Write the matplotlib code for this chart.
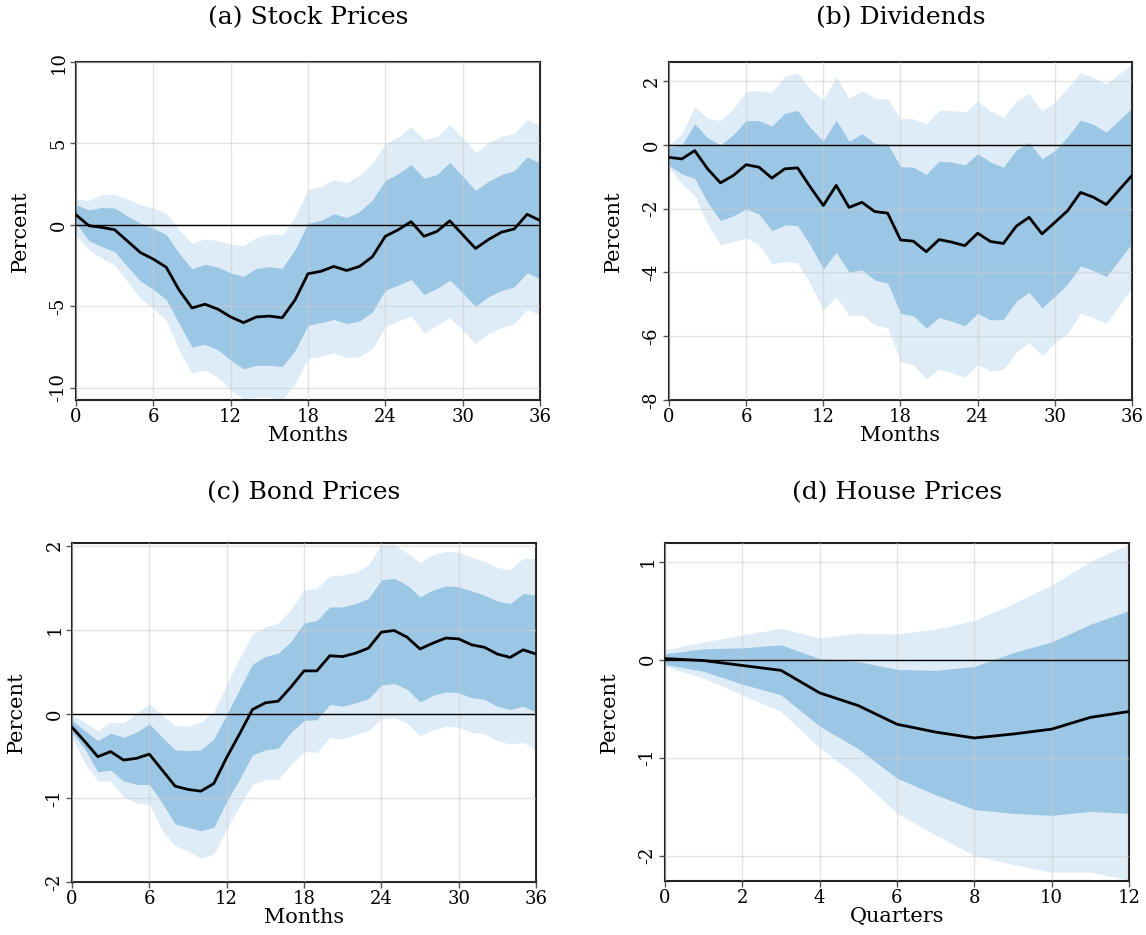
import numpy as np
import matplotlib
matplotlib.use('Agg')
import matplotlib.pyplot as plt

plt.rcParams['font.family'] = ['DejaVu Serif']
plt.rcParams['axes.unicode_minus'] = False

# (a) stock prices, months 0..36
stock_med = [0.62, -0.05, -0.15, -0.3, -1.0, -1.7, -2.1, -2.6, -4.0, -5.1, -4.87, -5.17, -5.65, -6.0, -5.65, -5.6, -5.7, -4.6, -3.0,
             -2.85, -2.55, -2.8, -2.55, -1.95, -0.7, -0.3, 0.2, -0.7, -0.4, 0.25, -0.6, -1.45, -0.9, -0.45, -0.25, 0.65, 0.27]
stock_in_hi = [1.23, 0.92, 1.07, 1.03, 0.55, 0.1, -0.2, -0.6, -1.75, -2.7, -2.42, -2.6, -2.95, -3.15, -2.67, -2.57, -2.67, -1.5, 0.1,
               0.27, 0.68, 0.45, 0.82, 1.54, 2.73, 3.14, 3.7, 2.87, 3.08, 3.84, 2.98, 2.12, 2.67, 3.08, 3.33, 4.17, 3.8]
stock_in_lo = [0.1, -0.97, -1.33, -1.64, -2.57, -3.45, -3.96, -4.58, -6.06, -7.5, -7.33, -7.66, -8.3, -8.83, -8.62, -8.62, -8.69, -7.7, -6.16,
               -6.0, -5.8, -6.06, -5.9, -5.34, -4.0, -3.7, -3.35, -4.27, -3.9, -3.39, -4.17, -5.0, -4.4, -4.05, -3.8, -2.94, -3.3]
stock_out_hi = [1.58, 1.5, 1.85, 1.89, 1.58, 1.23, 1.03, 0.72, -0.3, -1.13, -0.86, -0.97, -1.17, -1.29, -0.76, -0.55, -0.62, 0.51, 2.16,
                2.36, 2.77, 2.6, 3.02, 3.8, 4.97, 5.4, 6.02, 5.24, 5.4, 6.16, 5.34, 4.46, 5.03, 5.44, 5.6, 6.47, 6.1]
stock_out_lo = [-0.62, -1.54, -2.05, -2.46, -3.5, -4.5, -5.13, -5.85, -7.7, -9.1, -8.9, -9.34, -10.12, -10.68, -10.57, -10.57, -10.74, -9.75, -8.21,
                -8.07, -7.86, -8.15, -8.1, -7.6, -6.26, -5.89, -5.6, -6.63, -6.16, -5.7, -6.47, -7.29, -6.67, -6.3, -6.06, -5.2, -5.5]

# (b) dividends, months 0..36
div_med = [-0.39, -0.44, -0.18, -0.75, -1.19, -0.96, -0.62, -0.7, -1.04, -0.75, -0.72, -1.33, -1.9, -1.27, -1.96, -1.8, -2.09, -2.14, -2.98,
           -3.02, -3.35, -2.97, -3.05, -3.16, -2.77, -3.03, -3.09, -2.55, -2.27, -2.79, -2.43, -2.06, -1.49, -1.64, -1.87, -1.41, -0.96]
div_in_hi = [-0.07, 0.0, 0.66, 0.22, 0.0, 0.32, 0.76, 0.76, 0.59, 0.99, 1.08, 0.53, 0.12, 0.78, 0.12, 0.35, 0.05, 0.03, -0.68,
             -0.7, -0.93, -0.51, -0.54, -0.63, -0.28, -0.54, -0.7, -0.16, 0.08, -0.44, -0.18, 0.26, 0.78, 0.64, 0.4, 0.78, 1.16]
div_in_lo = [-0.65, -0.91, -1.05, -1.8, -2.37, -2.22, -2.01, -2.17, -2.69, -2.51, -2.53, -3.16, -3.89, -3.37, -3.99, -3.92, -4.24, -4.33, -5.28,
             -5.36, -5.75, -5.41, -5.53, -5.67, -5.28, -5.49, -5.47, -4.9, -4.62, -5.11, -4.75, -4.36, -3.79, -3.94, -4.13, -3.61, -3.09]
div_out_hi = [0.0, 0.35, 1.2, 0.84, 0.76, 1.13, 1.68, 1.7, 1.65, 2.14, 2.26, 1.74, 1.42, 2.14, 1.46, 1.7, 1.46, 1.44, 0.82,
              0.82, 0.66, 1.08, 1.08, 1.03, 1.37, 1.06, 0.87, 1.37, 1.62, 1.06, 1.34, 1.79, 2.26, 2.12, 1.91, 2.23, 2.54]
div_out_lo = [-0.7, -1.22, -1.59, -2.48, -3.13, -3.03, -2.92, -3.13, -3.73, -3.66, -3.7, -4.36, -5.18, -4.75, -5.36, -5.33, -5.65, -5.74, -6.79,
              -6.89, -7.34, -7.03, -7.15, -7.29, -6.89, -7.1, -7.03, -6.51, -6.19, -6.61, -6.19, -5.91, -5.28, -5.43, -5.6, -5.04, -4.49]

# (c) bond prices, months 0..36
bond_med = [-0.16, -0.33, -0.51, -0.45, -0.55, -0.53, -0.48, -0.67, -0.86, -0.9, -0.92, -0.83, -0.52, -0.24, 0.05, 0.13, 0.15, 0.32, 0.51,
            0.51, 0.69, 0.68, 0.72, 0.78, 0.97, 0.99, 0.91, 0.77, 0.84, 0.9, 0.89, 0.82, 0.79, 0.71, 0.67, 0.76, 0.71]
bond_in_hi = [-0.08, -0.2, -0.32, -0.23, -0.28, -0.22, -0.12, -0.28, -0.43, -0.44, -0.43, -0.3, -0.01, 0.29, 0.59, 0.68, 0.72, 0.86, 1.08,
              1.11, 1.27, 1.27, 1.31, 1.37, 1.59, 1.61, 1.53, 1.39, 1.47, 1.52, 1.51, 1.46, 1.41, 1.34, 1.31, 1.43, 1.41]
bond_in_lo = [-0.22, -0.42, -0.69, -0.67, -0.8, -0.84, -0.84, -1.06, -1.31, -1.35, -1.39, -1.35, -1.04, -0.78, -0.49, -0.43, -0.41, -0.22, -0.08,
              -0.07, 0.11, 0.09, 0.13, 0.18, 0.34, 0.36, 0.29, 0.14, 0.22, 0.26, 0.25, 0.19, 0.17, 0.09, 0.05, 0.09, 0.02]
bond_out_hi = [-0.01, -0.1, -0.2, -0.1, -0.11, 0.0, 0.12, -0.02, -0.14, -0.15, -0.1, 0.02, 0.35, 0.66, 0.95, 1.03, 1.08, 1.24, 1.47,
               1.49, 1.64, 1.65, 1.68, 1.77, 2.01, 2.01, 1.91, 1.8, 1.89, 1.93, 1.92, 1.86, 1.81, 1.74, 1.71, 1.85, 1.84]
bond_out_lo = [-0.28, -0.59, -0.8, -0.8, -0.99, -1.06, -1.08, -1.39, -1.57, -1.63, -1.72, -1.67, -1.37, -1.1, -0.84, -0.78, -0.78, -0.6, -0.45,
               -0.46, -0.28, -0.3, -0.25, -0.2, -0.06, -0.05, -0.11, -0.26, -0.19, -0.15, -0.16, -0.22, -0.24, -0.32, -0.36, -0.34, -0.43]

# (d) house prices, quarters 0..12
house_med = [0.01, -0.01, -0.06, -0.11, -0.34, -0.47, -0.66, -0.74, -0.8, -0.76, -0.71, -0.59, -0.53]
house_in_hi = [0.06, 0.11, 0.12, 0.15, 0.01, -0.02, -0.1, -0.11, -0.07, 0.07, 0.18, 0.36, 0.5]
house_in_lo = [-0.05, -0.12, -0.25, -0.36, -0.68, -0.91, -1.21, -1.38, -1.53, -1.57, -1.59, -1.55, -1.57]
house_out_hi = [0.1, 0.18, 0.25, 0.32, 0.22, 0.27, 0.26, 0.31, 0.4, 0.57, 0.76, 1.0, 1.18]
house_out_lo = [-0.07, -0.19, -0.36, -0.53, -0.9, -1.2, -1.57, -1.79, -2.0, -2.09, -2.17, -2.17, -2.25]

panels = [
    ('(a) Stock Prices', 'Months', stock_med, stock_in_lo, stock_in_hi, stock_out_lo, stock_out_hi,
     [0, 6, 12, 18, 24, 30, 36], [-10, -5, 0, 5, 10], (-10.75, 10)),
    ('(b) Dividends', 'Months', div_med, div_in_lo, div_in_hi, div_out_lo, div_out_hi,
     [0, 6, 12, 18, 24, 30, 36], [-8, -6, -4, -2, 0, 2], (-8, 2.6)),
    ('(c) Bond Prices', 'Months', bond_med, bond_in_lo, bond_in_hi, bond_out_lo, bond_out_hi,
     [0, 6, 12, 18, 24, 30, 36], [-2, -1, 0, 1, 2], (-2, 2.03)),
    ('(d) House Prices', 'Quarters', house_med, house_in_lo, house_in_hi, house_out_lo, house_out_hi,
     [0, 2, 4, 6, 8, 10, 12], [-2, -1, 0, 1], (-2.26, 1.19)),
]

# axes boxes in pixels: left, top, right, bottom
W, H = 1146, 935
boxes = [(76, 62, 540, 400), (669, 62, 1132, 400), (72, 543, 536, 882), (665, 543, 1129, 881)]
title_y = [18, 493]

fig = plt.figure(figsize=(W / 100, H / 100), dpi=100)
fig.patch.set_facecolor('white')

for i, (title, xlab, med, ilo, ihi, olo, ohi, xt, yt, ylim) in enumerate(panels):
    l, t, r, b = boxes[i]
    ax = fig.add_axes([l / W, 1 - b / H, (r - l) / W, (b - t) / H])
    x = np.arange(len(med))
    ax.fill_between(x, olo, ohi, color='#deecf7', lw=0, zorder=1)
    ax.fill_between(x, ilo, ihi, color='#9bc6e4', lw=0, zorder=2)
    for v in xt:
        ax.axvline(v, color='#cccccc', lw=1, alpha=0.55, zorder=3)
    for v in yt:
        ax.axhline(v, color='#cccccc', lw=1, alpha=0.55, zorder=3)
    ax.axhline(0, color='black', lw=1, zorder=4)
    ax.plot(x, med, color='black', lw=2, zorder=5)
    ax.set_xlim(0, len(med) - 1)
    ax.set_ylim(*ylim)
    ax.set_xticks(xt)
    ax.set_yticks(yt)
    ax.tick_params(axis='both', labelsize=13, length=4, width=1, color='#555555', pad=2)
    for lab in ax.get_yticklabels():
        lab.set_rotation(90)
        lab.set_va('center')
    for s in ax.spines.values():
        s.set_linewidth(1.5)
        s.set_color('#222222')
    ax.set_xlabel(xlab, fontsize=15, labelpad=0)
    ax.set_ylabel('Percent', fontsize=15, labelpad=14)
    fig.text((l + r) / 2 / W, 1 - title_y[i // 2] / H, title, fontsize=18, ha='center', va='center')

plt.savefig('out.png', dpi=100)
